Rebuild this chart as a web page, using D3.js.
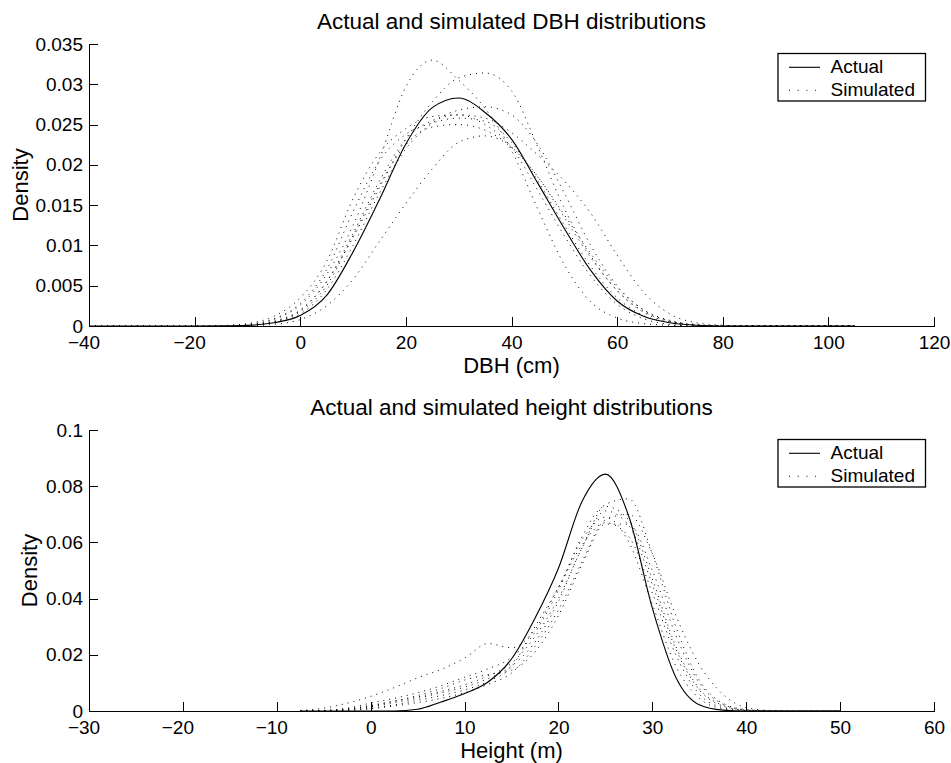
<!DOCTYPE html>
<html>
<head>
<meta charset="utf-8">
<script src="https://cdn.jsdelivr.net/npm/d3@7"></script>
<style>
  html, body { margin: 0; padding: 0; background: #fff; }
  svg { display: block; font-family: "Liberation Sans", Arial, Helvetica, sans-serif; }
</style>
</head>
<body>
<svg id="chart" width="951" height="763"></svg>
<script>
// ---------- DBH panel data ----------
const dbhGrid = [-40, -35, -30, -25, -20, -15, -10, -5, 0, 5, 10, 15, 20, 25, 30, 35, 40, 45, 50, 55, 60, 65, 70, 75, 80, 85, 90, 95, 100, 105];
const dbhActual = [0, 0, 0, 0, 0, 0.00002, 0.00008, 0.0004, 0.0013, 0.0038, 0.0092, 0.0157, 0.0226, 0.0271, 0.0283, 0.0265, 0.0232, 0.0177, 0.0121, 0.0069, 0.0031, 0.0012, 0.0004, 0.0001, 0, 0, 0, 0, 0, 0];
const dbhSim1 = [0, 0, 0, 0, 0, 0.00003, 0.0002, 0.0008, 0.0026, 0.0064, 0.0125, 0.0207, 0.0297, 0.0330, 0.0305, 0.0270, 0.0218, 0.0145, 0.0076, 0.0030, 0.0010, 0.0003, 0.0001, 0, 0, 0, 0, 0, 0, 0];
const dbhSim2 = [0, 0, 0, 0, 0, 0.00002, 0.0001, 0.0005, 0.0019, 0.0055, 0.0110, 0.0172, 0.0232, 0.0278, 0.0308, 0.0314, 0.0292, 0.0222, 0.0146, 0.0087, 0.0044, 0.0017, 0.0005, 0.0001, 0, 0, 0, 0, 0, 0];
const dbhSim3 = [0, 0, 0, 0, 0, 0.00005, 0.0003, 0.0012, 0.0035, 0.0080, 0.0158, 0.0215, 0.0245, 0.0260, 0.0262, 0.0250, 0.0222, 0.0168, 0.0112, 0.0062, 0.0027, 0.0009, 0.0002, 0, 0, 0, 0, 0, 0, 0];
const dbhSim4 = [0, 0, 0, 0, 0, 0.00004, 0.0002, 0.0009, 0.0028, 0.0070, 0.0142, 0.0205, 0.0238, 0.0252, 0.0258, 0.0254, 0.0228, 0.0180, 0.0125, 0.0074, 0.0035, 0.0013, 0.0004, 0.0001, 0, 0, 0, 0, 0, 0];
const dbhSim5 = [0, 0, 0, 0, 0, 0.00002, 0.0001, 0.0005, 0.0018, 0.0050, 0.0112, 0.0175, 0.0225, 0.0247, 0.0250, 0.0243, 0.0222, 0.0185, 0.0138, 0.0090, 0.0048, 0.0020, 0.0007, 0.0002, 0, 0, 0, 0, 0, 0];
const dbhSim6 = [0, 0, 0, 0, 0, 0.00002, 0.0001, 0.0006, 0.0020, 0.0055, 0.0115, 0.0180, 0.0232, 0.0255, 0.0262, 0.0258, 0.0240, 0.0212, 0.0180, 0.0140, 0.0088, 0.0042, 0.0015, 0.0004, 0.0001, 0, 0, 0, 0, 0];
const dbhSim7 = [0, 0, 0, 0, 0, 0, 0.00003, 0.0002, 0.0008, 0.0025, 0.0058, 0.0105, 0.0152, 0.0195, 0.0228, 0.0236, 0.0222, 0.0185, 0.0135, 0.0085, 0.0044, 0.0018, 0.0006, 0.0001, 0, 0, 0, 0, 0, 0];
const dbhSim8 = [0, 0, 0, 0, 0, 0.00002, 0.0001, 0.0004, 0.0015, 0.0045, 0.0100, 0.0165, 0.0220, 0.0252, 0.0268, 0.0272, 0.0262, 0.0225, 0.0165, 0.0100, 0.0050, 0.0020, 0.0006, 0.0001, 0, 0, 0, 0, 0, 0];
const dbhXTicks = [-40, -20, 0, 20, 40, 60, 80, 100, 120];
const dbhXTickLabels = ["\u221240", "\u221220", "0", "20", "40", "60", "80", "100", "120"];
const dbhYTicks = [0, 0.005, 0.01, 0.015, 0.02, 0.025, 0.03, 0.035];
const dbhYTickLabels = ["0", "0.005", "0.01", "0.015", "0.02", "0.025", "0.03", "0.035"];

// ---------- Height panel data ----------
const heightGrid = [-7.5, -5, -2.5, 0, 2.5, 5, 7.5, 10, 12.5, 15, 17.5, 20, 22.5, 25, 27.5, 30, 32.5, 35, 37.5, 40, 42.5, 45, 47.5, 50];
const heightActual = [0, 0, 0, 0, 0, 0.0006, 0.0032, 0.0062, 0.0103, 0.0185, 0.0330, 0.0508, 0.0745, 0.0843, 0.0692, 0.0366, 0.0120, 0.0022, 0.0003, 0, 0, 0, 0, 0];
const heightSim1 = [0.0002, 0.0010, 0.0028, 0.0052, 0.0083, 0.0118, 0.0148, 0.0188, 0.0240, 0.0225, 0.0290, 0.0440, 0.0590, 0.0670, 0.0620, 0.0420, 0.0200, 0.0060, 0.0012, 0.0002, 0, 0, 0, 0];
const heightSim2 = [0, 0.0002, 0.0008, 0.0020, 0.0035, 0.0050, 0.0070, 0.0093, 0.0125, 0.0170, 0.0265, 0.0400, 0.0580, 0.0735, 0.0755, 0.0560, 0.0300, 0.0110, 0.0028, 0.0005, 0.0001, 0, 0, 0];
const heightSim3 = [0, 0.0001, 0.0005, 0.0015, 0.0030, 0.0045, 0.0065, 0.0085, 0.0115, 0.0160, 0.0245, 0.0390, 0.0580, 0.0712, 0.0660, 0.0450, 0.0220, 0.0075, 0.0018, 0.0003, 0, 0, 0, 0];
const heightSim4 = [0, 0, 0.0003, 0.0010, 0.0022, 0.0038, 0.0055, 0.0075, 0.0105, 0.0158, 0.0300, 0.0440, 0.0610, 0.0690, 0.0600, 0.0380, 0.0160, 0.0045, 0.0008, 0.0001, 0, 0, 0, 0];
const heightSim5 = [0, 0.0001, 0.0006, 0.0018, 0.0035, 0.0055, 0.0080, 0.0110, 0.0130, 0.0145, 0.0210, 0.0340, 0.0520, 0.0665, 0.0665, 0.0500, 0.0270, 0.0100, 0.0025, 0.0004, 0.0001, 0, 0, 0];
const heightSim6 = [0, 0, 0.0002, 0.0008, 0.0018, 0.0030, 0.0045, 0.0065, 0.0095, 0.0135, 0.0230, 0.0360, 0.0530, 0.0680, 0.0700, 0.0560, 0.0340, 0.0165, 0.0060, 0.0012, 0.0002, 0, 0, 0];
const heightSim7 = [0, 0.0002, 0.0010, 0.0028, 0.0045, 0.0065, 0.0090, 0.0120, 0.0150, 0.0190, 0.0280, 0.0430, 0.0620, 0.0728, 0.0680, 0.0470, 0.0230, 0.0080, 0.0020, 0.0003, 0, 0, 0, 0];
const heightXTicks = [-30, -20, -10, 0, 10, 20, 30, 40, 50, 60];
const heightXTickLabels = ["\u221230", "\u221220", "\u221210", "0", "10", "20", "30", "40", "50", "60"];
const heightYTicks = [0, 0.02, 0.04, 0.06, 0.08, 0.1];
const heightYTickLabels = ["0", "0.02", "0.04", "0.06", "0.08", "0.1"];

const legendLabels = ["Actual", "Simulated"];

// ---------- drawing ----------
const svg = d3.select("#chart");
const FONT = "'Liberation Sans', Arial, Helvetica, sans-serif";

function panel(cfg) {
  const { top, bottom, left, right } = cfg.box;
  const x = d3.scaleLinear().domain(cfg.xDomain).range([left, right]);
  const y = d3.scaleLinear().domain(cfg.yDomain).range([bottom, top]);
  const g = svg.append("g");

  const line = d3.line()
    .x((d, i) => x(cfg.grid[i]))
    .y(d => y(d))
    .curve(d3.curveMonotoneX);

  // simulated curves (dotted)
  g.append("g").selectAll("path")
    .data(cfg.simulated)
    .join("path")
    .attr("d", line)
    .attr("fill", "none")
    .attr("stroke", "#000")
    .attr("stroke-width", 1)
    .attr("stroke-dasharray", "1 5");

  // actual curve (solid)
  g.append("path")
    .datum(cfg.actual)
    .attr("d", line)
    .attr("fill", "none")
    .attr("stroke", "#000")
    .attr("stroke-width", 1.1);

  // axes with inward ticks
  const xAxis = d3.axisBottom(x)
    .tickValues(cfg.xTicks)
    .tickFormat((d, i) => cfg.xTickLabels[i])
    .tickSizeInner(-9).tickSizeOuter(0).tickPadding(10);
  const yAxis = d3.axisLeft(y)
    .tickValues(cfg.yTicks)
    .tickFormat((d, i) => cfg.yTickLabels[i])
    .tickSizeInner(-9).tickSizeOuter(0).tickPadding(6);

  const gx = g.append("g").attr("transform", `translate(0,${bottom})`).call(xAxis);
  const gy = g.append("g").attr("transform", `translate(${left},0)`).call(yAxis);
  [gx, gy].forEach(a => {
    a.selectAll("path, line").attr("stroke", "#000").attr("stroke-width", 1).attr("shape-rendering", "crispEdges");
    a.selectAll("text").attr("fill", "#000").style("font-size", "19px").style("font-family", FONT);
  });
  // negative labels: digits centred on the tick, minus sign hanging to the left
  gx.selectAll(".tick text")
    .filter(function () { return this.textContent.startsWith("\u2212"); })
    .attr("dx", "-0.29em");

  // title and axis labels
  const cx = (left + right) / 2;
  g.append("text").attr("x", cx).attr("y", top - 15)
    .attr("text-anchor", "middle").style("font-size", "22.5px").text(cfg.title);
  g.append("text").attr("x", cx).attr("y", bottom + 47)
    .attr("text-anchor", "middle").style("font-size", "22px").text(cfg.xLabel);
  g.append("text")
    .attr("transform", `translate(${cfg.yLabelX},${(top + bottom) / 2}) rotate(-90)`)
    .attr("text-anchor", "middle").style("font-size", "22px").text(cfg.yLabel);

  // legend
  const lg = g.append("g").attr("transform", `translate(${right - 156},${top + 9.5})`);
  lg.append("rect").attr("x", 0).attr("y", 0).attr("width", 147.5).attr("height", 47.5)
    .attr("fill", "#fff").attr("stroke", "#000").attr("stroke-width", 1.3);
  lg.append("line").attr("x1", 11).attr("x2", 42).attr("y1", 13.8).attr("y2", 13.8)
    .attr("stroke", "#000").attr("stroke-width", 1.1);
  lg.append("line").attr("x1", 11).attr("x2", 42).attr("y1", 36.8).attr("y2", 36.8)
    .attr("stroke", "#000").attr("stroke-width", 1).attr("stroke-dasharray", "1 7.7");
  lg.selectAll("text.lab").data(legendLabels).join("text")
    .attr("class", "lab")
    .attr("x", 52.5).attr("y", (d, i) => 19.8 + i * 22.6)
    .style("font-size", "19px").text(d => d);
}

panel({
  box: { top: 44, bottom: 326, left: 89, right: 934 },
  xDomain: [-40, 120], yDomain: [0, 0.035],
  grid: dbhGrid, actual: dbhActual,
  simulated: [dbhSim1, dbhSim2, dbhSim3, dbhSim4, dbhSim5, dbhSim6, dbhSim7, dbhSim8],
  xTicks: dbhXTicks, xTickLabels: dbhXTickLabels,
  yTicks: dbhYTicks, yTickLabels: dbhYTickLabels,
  title: "Actual and simulated DBH distributions",
  xLabel: "DBH (cm)", yLabel: "Density", yLabelX: 27.5
});

panel({
  box: { top: 430, bottom: 711, left: 89, right: 934 },
  xDomain: [-30, 60], yDomain: [0, 0.1],
  grid: heightGrid, actual: heightActual,
  simulated: [heightSim1, heightSim2, heightSim3, heightSim4, heightSim5, heightSim6, heightSim7],
  xTicks: heightXTicks, xTickLabels: heightXTickLabels,
  yTicks: heightYTicks, yTickLabels: heightYTickLabels,
  title: "Actual and simulated height distributions",
  xLabel: "Height (m)", yLabel: "Density", yLabelX: 36.5
});
</script>
</body>
</html>
